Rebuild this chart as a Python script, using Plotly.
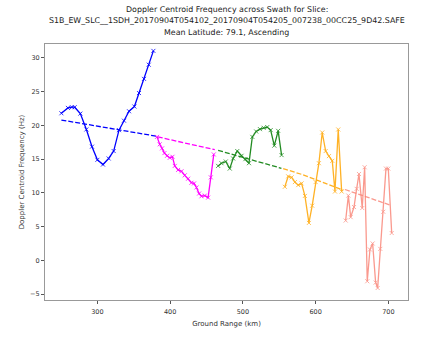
import plotly.graph_objects as go

# ---- data ----
blue_x = [250.5, 259.5, 265.0, 268.8, 276.6, 284.9, 292.6, 300.0, 307.7, 315.5,
          322.4, 329.7, 336.6, 343.5, 350.9, 357.2, 364.1, 370.6, 377.0]
blue_y = [21.8, 22.6, 22.7, 22.7, 21.75, 19.4, 16.85, 14.9, 14.2, 15.1,
          16.2, 19.3, 20.7, 22.1, 22.8, 24.8, 26.9, 29.0, 31.05]

magenta_x = [382.0, 385.7, 388.9, 392.2, 395.8, 399.5, 403.2, 406.4, 411.0, 415.6,
             420.1, 424.7, 429.3, 432.9, 436.2, 439.8, 443.1, 447.7, 452.2, 455.9, 460.0]
magenta_y = [18.3, 17.2, 16.6, 15.9, 15.5, 15.2, 15.35, 14.0, 13.4, 13.2,
             12.6, 12.1, 11.5, 11.4, 10.8, 9.9, 9.5, 9.6, 9.3, 12.3, 15.7]

green_x = [466.0, 470.6, 476.5, 482.0, 486.6, 492.3, 498.2, 503.5, 508.4, 513.0,
           518.3, 523.5, 528.5, 533.5, 538.2, 543.2, 548.5, 553.2]
green_y = [14.0, 14.4, 14.65, 13.6, 15.1, 16.2, 15.5, 15.0, 14.4, 18.3,
           19.1, 19.45, 19.65, 19.75, 19.3, 17.0, 19.2, 15.6]

orange_x = [557.7, 562.3, 567.0, 571.5, 576.1, 580.7, 585.3, 590.8, 595.3, 600.0,
            604.5, 609.1, 613.8, 618.3, 622.9, 626.6, 631.1, 635.8]
orange_y = [10.9, 12.45, 12.3, 11.6, 11.15, 11.4, 9.55, 5.55, 8.1, 11.6,
            14.4, 18.95, 16.2, 15.45, 14.75, 10.2, 19.4, 10.2]

red_x = [641.3, 645.0, 648.2, 652.8, 656.4, 659.6, 664.1, 667.4, 671.0, 674.7,
         678.4, 682.5, 685.3, 688.9, 693.0, 696.7, 699.9, 704.6]
red_y = [5.9, 9.6, 6.4, 7.9, 10.6, 12.8, 7.75, 13.8, -3.1, 1.6,
         2.5, -3.3, -4.1, 1.7, 7.2, 13.6, 13.6, 4.05]

# trend line (fit) read per slice segment
trend_blue_x = [250.5, 381.0]
trend_blue_y = [20.8, 18.4]
trend_magenta_x = [383.0, 461.4]
trend_magenta_y = [18.3, 16.4]
trend_green_x = [466.0, 553.0]
trend_green_y = [16.3, 13.65]
trend_orange_x = [555.4, 580.7, 638.0]
trend_orange_y = [13.6, 12.75, 10.4]
trend_red_x = [640.4, 702.2]
trend_red_y = [10.5, 8.2]

x_ticks = [300, 400, 500, 600, 700]
y_ticks = [-5, 0, 5, 10, 15, 20, 25, 30]

title_lines = [
    "Doppler Centroid Frequency across Swath for Slice:",
    "S1B_EW_SLC__1SDH_20170904T054102_20170904T054205_007238_00CC25_9D42.SAFE",
    "Mean Latitude: 79.1, Ascending",
]

# ---- figure ----
series = [
    (blue_x, blue_y, trend_blue_x, trend_blue_y, "#0000ff", 1.0),
    (magenta_x, magenta_y, trend_magenta_x, trend_magenta_y, "#ff00ff", 1.0),
    (green_x, green_y, trend_green_x, trend_green_y, "#228b22", 1.0),
    (orange_x, orange_y, trend_orange_x, trend_orange_y, "#ffa500", 0.85),
    (red_x, red_y, trend_red_x, trend_red_y, "#fa8072", 0.8),
]

fig = go.Figure()
for xs, ys, tx, ty, col, op in series:
    fig.add_trace(go.Scatter(
        x=xs, y=ys, mode="lines+markers", opacity=op,
        line=dict(color=col, width=1.3),
        marker=dict(symbol="x-thin", size=4, color=col,
                    line=dict(color=col, width=0.8)),
        showlegend=False))
    fig.add_trace(go.Scatter(
        x=tx, y=ty, mode="lines", opacity=op,
        line=dict(color=col, width=1.3, dash="5px,2px"),
        showlegend=False))

L, R, T, B = 45, 15, 44, 24
W, H = 423, 339
ph = H - T - B

annotations = []
for txt, py in zip(title_lines, [7.3, 19.3, 31.3]):
    annotations.append(dict(
        text=txt, xref="paper", yref="paper",
        x=0.5, y=(H - B - py) / ph, xanchor="center", yanchor="middle",
        showarrow=False, font=dict(size=7.9, color="#222")))

fig.update_layout(
    width=W, height=H,
    margin=dict(l=L, r=R, t=T, b=B, pad=0),
    paper_bgcolor="white", plot_bgcolor="white",
    font=dict(family="DejaVu Sans", color="#333"),
    annotations=annotations,
    xaxis=dict(
        range=[228, 727], tickvals=x_ticks, showgrid=False, zeroline=False,
        showline=True, mirror=True, linecolor="#999", linewidth=1,
        ticks="outside", ticklen=3, tickcolor="#555", ticklabelstandoff=2,
        tickfont=dict(size=6.5, color="#333"),
        title=dict(text="Ground Range (km)", font=dict(size=7, color="#333"), standoff=6),
    ),
    yaxis=dict(
        range=[-5.88, 32.07], tickvals=y_ticks, showgrid=False, zeroline=False,
        showline=True, mirror=True, linecolor="#999", linewidth=1,
        ticks="outside", ticklen=3, tickcolor="#555",
        tickfont=dict(size=6.5, color="#333"),
        title=dict(text="Doppler Centroid Frequency (Hz)", font=dict(size=7, color="#333"), standoff=4),
    ),
)

fig.write_html("out.html")
